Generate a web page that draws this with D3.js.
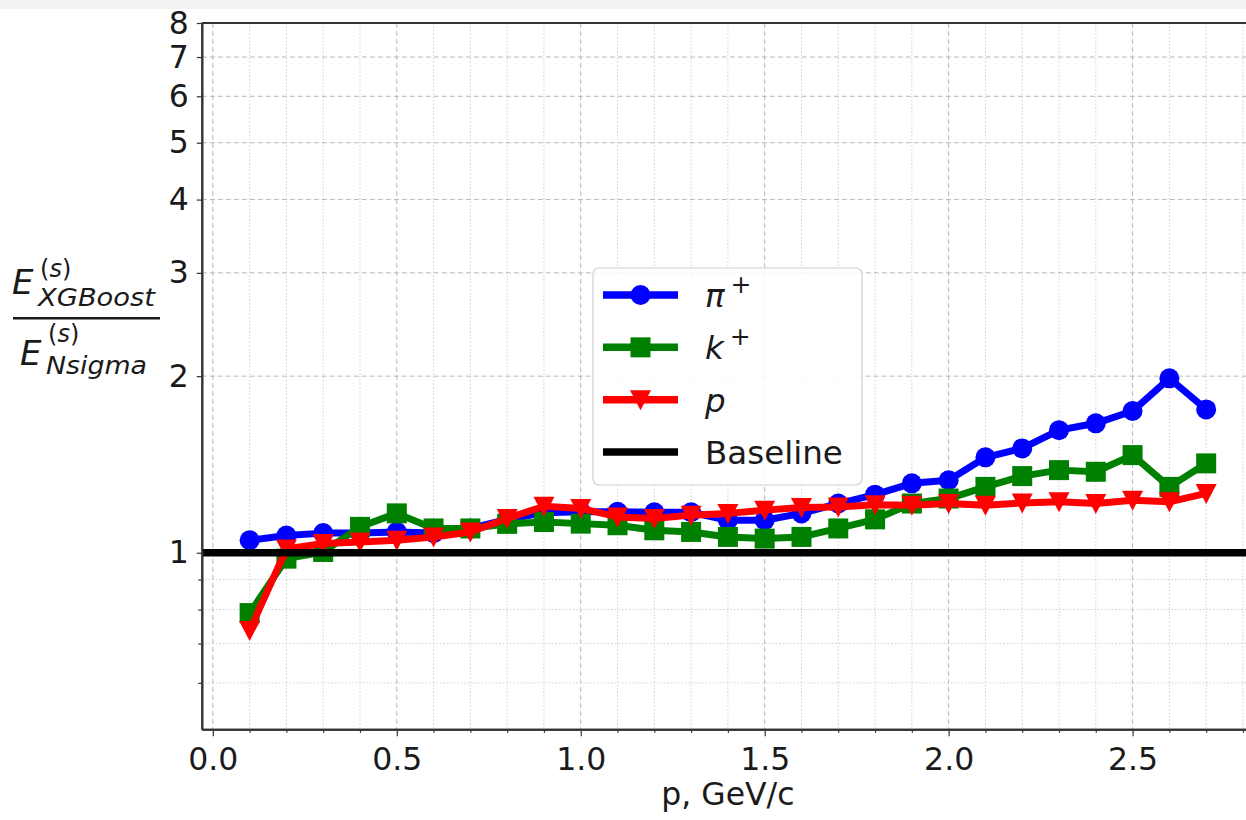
<!DOCTYPE html>
<html>
<head>
<meta charset="utf-8">
<script src="https://cdn.jsdelivr.net/npm/d3@7"></script>
<style>
  html, body { margin: 0; padding: 0; background: #ffffff; }
  svg { display: block; font-family: "DejaVu Sans", sans-serif; }
</style>
</head>
<body>
<svg id="chart" width="1246" height="820"></svg>
<script>
// ---------------- data ----------------
const momentum = [0.1,0.2,0.3,0.4,0.5,0.6,0.7,0.8,0.9,1.0,1.1,1.2,1.3,1.4,1.5,1.6,1.7,1.8,1.9,2.0,2.1,2.2,2.3,2.4,2.5,2.6,2.7];
const pionRatio   = [1.05,1.07,1.08,1.08,1.085,1.08,1.10,1.14,1.17,1.175,1.174,1.172,1.172,1.136,1.136,1.167,1.213,1.256,1.313,1.329,1.454,1.506,1.618,1.662,1.744,1.983,1.755];
const kaonRatio   = [0.789,0.977,1.003,1.107,1.167,1.10,1.10,1.12,1.128,1.121,1.114,1.092,1.085,1.064,1.057,1.064,1.10,1.14,1.213,1.237,1.295,1.351,1.383,1.374,1.467,1.295,1.420];
const protonRatio = [0.737,1.015,1.037,1.043,1.05,1.064,1.085,1.144,1.20,1.19,1.151,1.144,1.159,1.167,1.182,1.194,1.197,1.207,1.205,1.213,1.205,1.216,1.221,1.213,1.229,1.221,1.262];
const baselineValue = 1;
const seriesNames = ["π", "k", "p", "Baseline"];
const xMajorTicks = [0.0,0.5,1.0,1.5,2.0,2.5];
const xMinorTicks = [0.1,0.2,0.3,0.4,0.6,0.7,0.8,0.9,1.1,1.2,1.3,1.4,1.6,1.7,1.8,1.9,2.1,2.2,2.3,2.4,2.6,2.7,2.8];
const yMajorTicks = [1,2,3,4,5,6,7,8];
const yMinorTicks = [0.6,0.7,0.8,0.9];
const xLabelText = "p, GeV/c";

// ---------------- layout ----------------
const svg = d3.select("#chart");
const L = 201.8, R = 1254, T = 23, B = 729.3;
const x = d3.scaleLinear().domain([-0.03, 2.83]).range([L, R]);
const y = d3.scaleLog().domain([0.5, 8]).range([B, T]);

// faint top strip (screenshot artefact)
svg.append("rect").attr("x",0).attr("y",0).attr("width",1246).attr("height",9).attr("fill","#f3f3f3");

// clip
svg.append("defs").append("clipPath").attr("id","plotclip")
  .append("rect").attr("x",L).attr("y",T).attr("width",R-L).attr("height",B-T);

// ---------------- grid ----------------
const grid = svg.append("g");
grid.selectAll(".vmin").data(xMinorTicks).join("line")
  .attr("x1",d=>x(d)).attr("x2",d=>x(d)).attr("y1",T).attr("y2",B)
  .attr("stroke","#d0d0d0").attr("stroke-width",1).attr("stroke-dasharray","1.5,2");
grid.selectAll(".vmaj").data(xMajorTicks).join("line")
  .attr("x1",d=>x(d)).attr("x2",d=>x(d)).attr("y1",T).attr("y2",B)
  .attr("stroke","#b8b8b8").attr("stroke-width",1).attr("stroke-dasharray","5,3");
grid.selectAll(".hmin").data(yMinorTicks).join("line")
  .attr("x1",L).attr("x2",R).attr("y1",d=>y(d)).attr("y2",d=>y(d))
  .attr("stroke","#d0d0d0").attr("stroke-width",1).attr("stroke-dasharray","1.5,2");
grid.selectAll(".hmaj").data(yMajorTicks).join("line")
  .attr("x1",L).attr("x2",R).attr("y1",d=>y(d)).attr("y2",d=>y(d))
  .attr("stroke","#b8b8b8").attr("stroke-width",1).attr("stroke-dasharray","5,3");

// ---------------- series ----------------
const plot = svg.append("g").attr("clip-path","url(#plotclip)");
const series = [
  {vals: pionRatio,   color: "#0000ff", marker: "circle"},
  {vals: kaonRatio,   color: "#008000", marker: "square"},
  {vals: protonRatio, color: "#ff0000", marker: "tri"}
];
const line = d3.line().x(d=>x(d[0])).y(d=>y(d[1]));
const triPath = "M-10.5,-9.5L10.5,-9.5L0,10.5Z";

function drawMarker(g, type, color, cx, cy) {
  if (type === "circle") {
    g.append("circle").attr("cx",cx).attr("cy",cy).attr("r",10).attr("fill",color);
  } else if (type === "square") {
    g.append("rect").attr("x",cx-10).attr("y",cy-10).attr("width",20).attr("height",20).attr("fill",color);
  } else {
    g.append("path").attr("d",triPath).attr("transform",`translate(${cx},${cy})`).attr("fill",color);
  }
}

series.forEach(s => {
  const pts = momentum.map((m,i)=>[m, s.vals[i]]);
  const g = plot.append("g");
  g.append("path").datum(pts).attr("d",line).attr("fill","none")
    .attr("stroke",s.color).attr("stroke-width",7).attr("stroke-linejoin","round");
  pts.forEach(p => drawMarker(g, s.marker, s.color, x(p[0]), y(p[1])));
});

// baseline
plot.append("line").attr("x1",L).attr("x2",R)
  .attr("y1",y(baselineValue)).attr("y2",y(baselineValue))
  .attr("stroke","#000").attr("stroke-width",7.5);

// ---------------- axes ----------------
const axColor = "#333";
const yAxis = svg.append("g").attr("transform",`translate(${L},0)`)
  .call(d3.axisLeft(y).tickValues(yMajorTicks).tickFormat(d3.format("d")).tickSize(5).tickSizeOuter(0).tickPadding(8));
const yAxisMinor = svg.append("g").attr("transform",`translate(${L},0)`)
  .call(d3.axisLeft(y).tickValues(yMinorTicks).tickFormat("").tickSize(3.5).tickSizeOuter(0));
const xAxis = svg.append("g").attr("transform",`translate(0,${B})`)
  .call(d3.axisBottom(x).tickValues(xMajorTicks).tickFormat(d3.format(".1f")).tickSize(7).tickSizeOuter(0).tickPadding(11));
const xAxisMinor = svg.append("g").attr("transform",`translate(0,${B})`)
  .call(d3.axisBottom(x).tickValues(xMinorTicks).tickFormat("").tickSize(3.5).tickSizeOuter(0));

[yAxis, yAxisMinor, xAxis, xAxisMinor].forEach(a => {
  a.selectAll(".domain").attr("stroke",axColor).attr("stroke-width",2);
  a.selectAll(".tick line").attr("stroke",axColor).attr("stroke-width",1.2);
  a.selectAll("text").attr("font-size",31.5).attr("fill","#1a1a1a").attr("font-family","DejaVu Sans");
});
// top spine
svg.append("line").attr("x1",L).attr("x2",R).attr("y1",T).attr("y2",T).attr("stroke",axColor).attr("stroke-width",2);

// x label
svg.append("text").attr("x",(L+R)/2).attr("y",805).attr("text-anchor","middle")
  .attr("font-size",31.5).attr("fill","#1a1a1a").text(xLabelText);

// y label (fraction)
const yl = svg.append("g").attr("fill","#1a1a1a");
function fracPart(ex, eBase, supBase, subX, subBase, subText, subLen) {
  yl.append("text").attr("x",ex).attr("y",eBase).attr("font-size",34).attr("font-style","italic").text("E");
  const sup = yl.append("text").attr("x",subX+2).attr("y",supBase).attr("font-size",24);
  sup.append("tspan").text("(");
  sup.append("tspan").attr("font-style","italic").text("s");
  sup.append("tspan").text(")");
  yl.append("text").attr("x",subX).attr("y",subBase).attr("font-size",25).attr("font-style","italic")
    .attr("textLength",subLen).attr("lengthAdjust","spacingAndGlyphs").text(subText);
}
fracPart(12, 294, 277, 38, 306, "XGBoost", 117);
yl.append("rect").attr("x",13).attr("y",317).attr("width",147).attr("height",2.5);
fracPart(20, 365, 342, 46, 374, "Nsigma", 101);

// ---------------- legend ----------------
const lg = svg.append("g");
lg.append("rect").attr("x",593).attr("y",268).attr("width",269).attr("height",217).attr("rx",6)
  .attr("fill","#ffffff").attr("fill-opacity",0.85).attr("stroke","#d0d0d0").attr("stroke-width",1.2);
const legendRows = [
  {name: seriesNames[0], sup: "+", color: "#0000ff", marker: "circle", italic: true},
  {name: seriesNames[1], sup: "+", color: "#008000", marker: "square", italic: true},
  {name: seriesNames[2], sup: "",  color: "#ff0000", marker: "tri", italic: true},
  {name: seriesNames[3], sup: "",  color: "#000000", marker: null, italic: false}
];
const rowY = d3.scalePoint().domain(d3.range(legendRows.length)).range([295, 452]);
legendRows.forEach((r,i) => {
  const cy = rowY(i);
  lg.append("line").attr("x1",603).attr("x2",678).attr("y1",cy).attr("y2",cy)
    .attr("stroke",r.color).attr("stroke-width",7.5);
  if (r.marker) drawMarker(lg, r.marker, r.color, 640.5, cy);
  const t = lg.append("text").attr("x",705).attr("y",cy+12).attr("font-size",32.5).attr("fill","#1a1a1a");
  t.append("tspan").attr("font-style", r.italic ? "italic" : "normal").text(r.name);
  if (r.sup) t.append("tspan").attr("dx",6).attr("dy",-14).attr("font-size",25).text(r.sup);
});
</script>
</body>
</html>
